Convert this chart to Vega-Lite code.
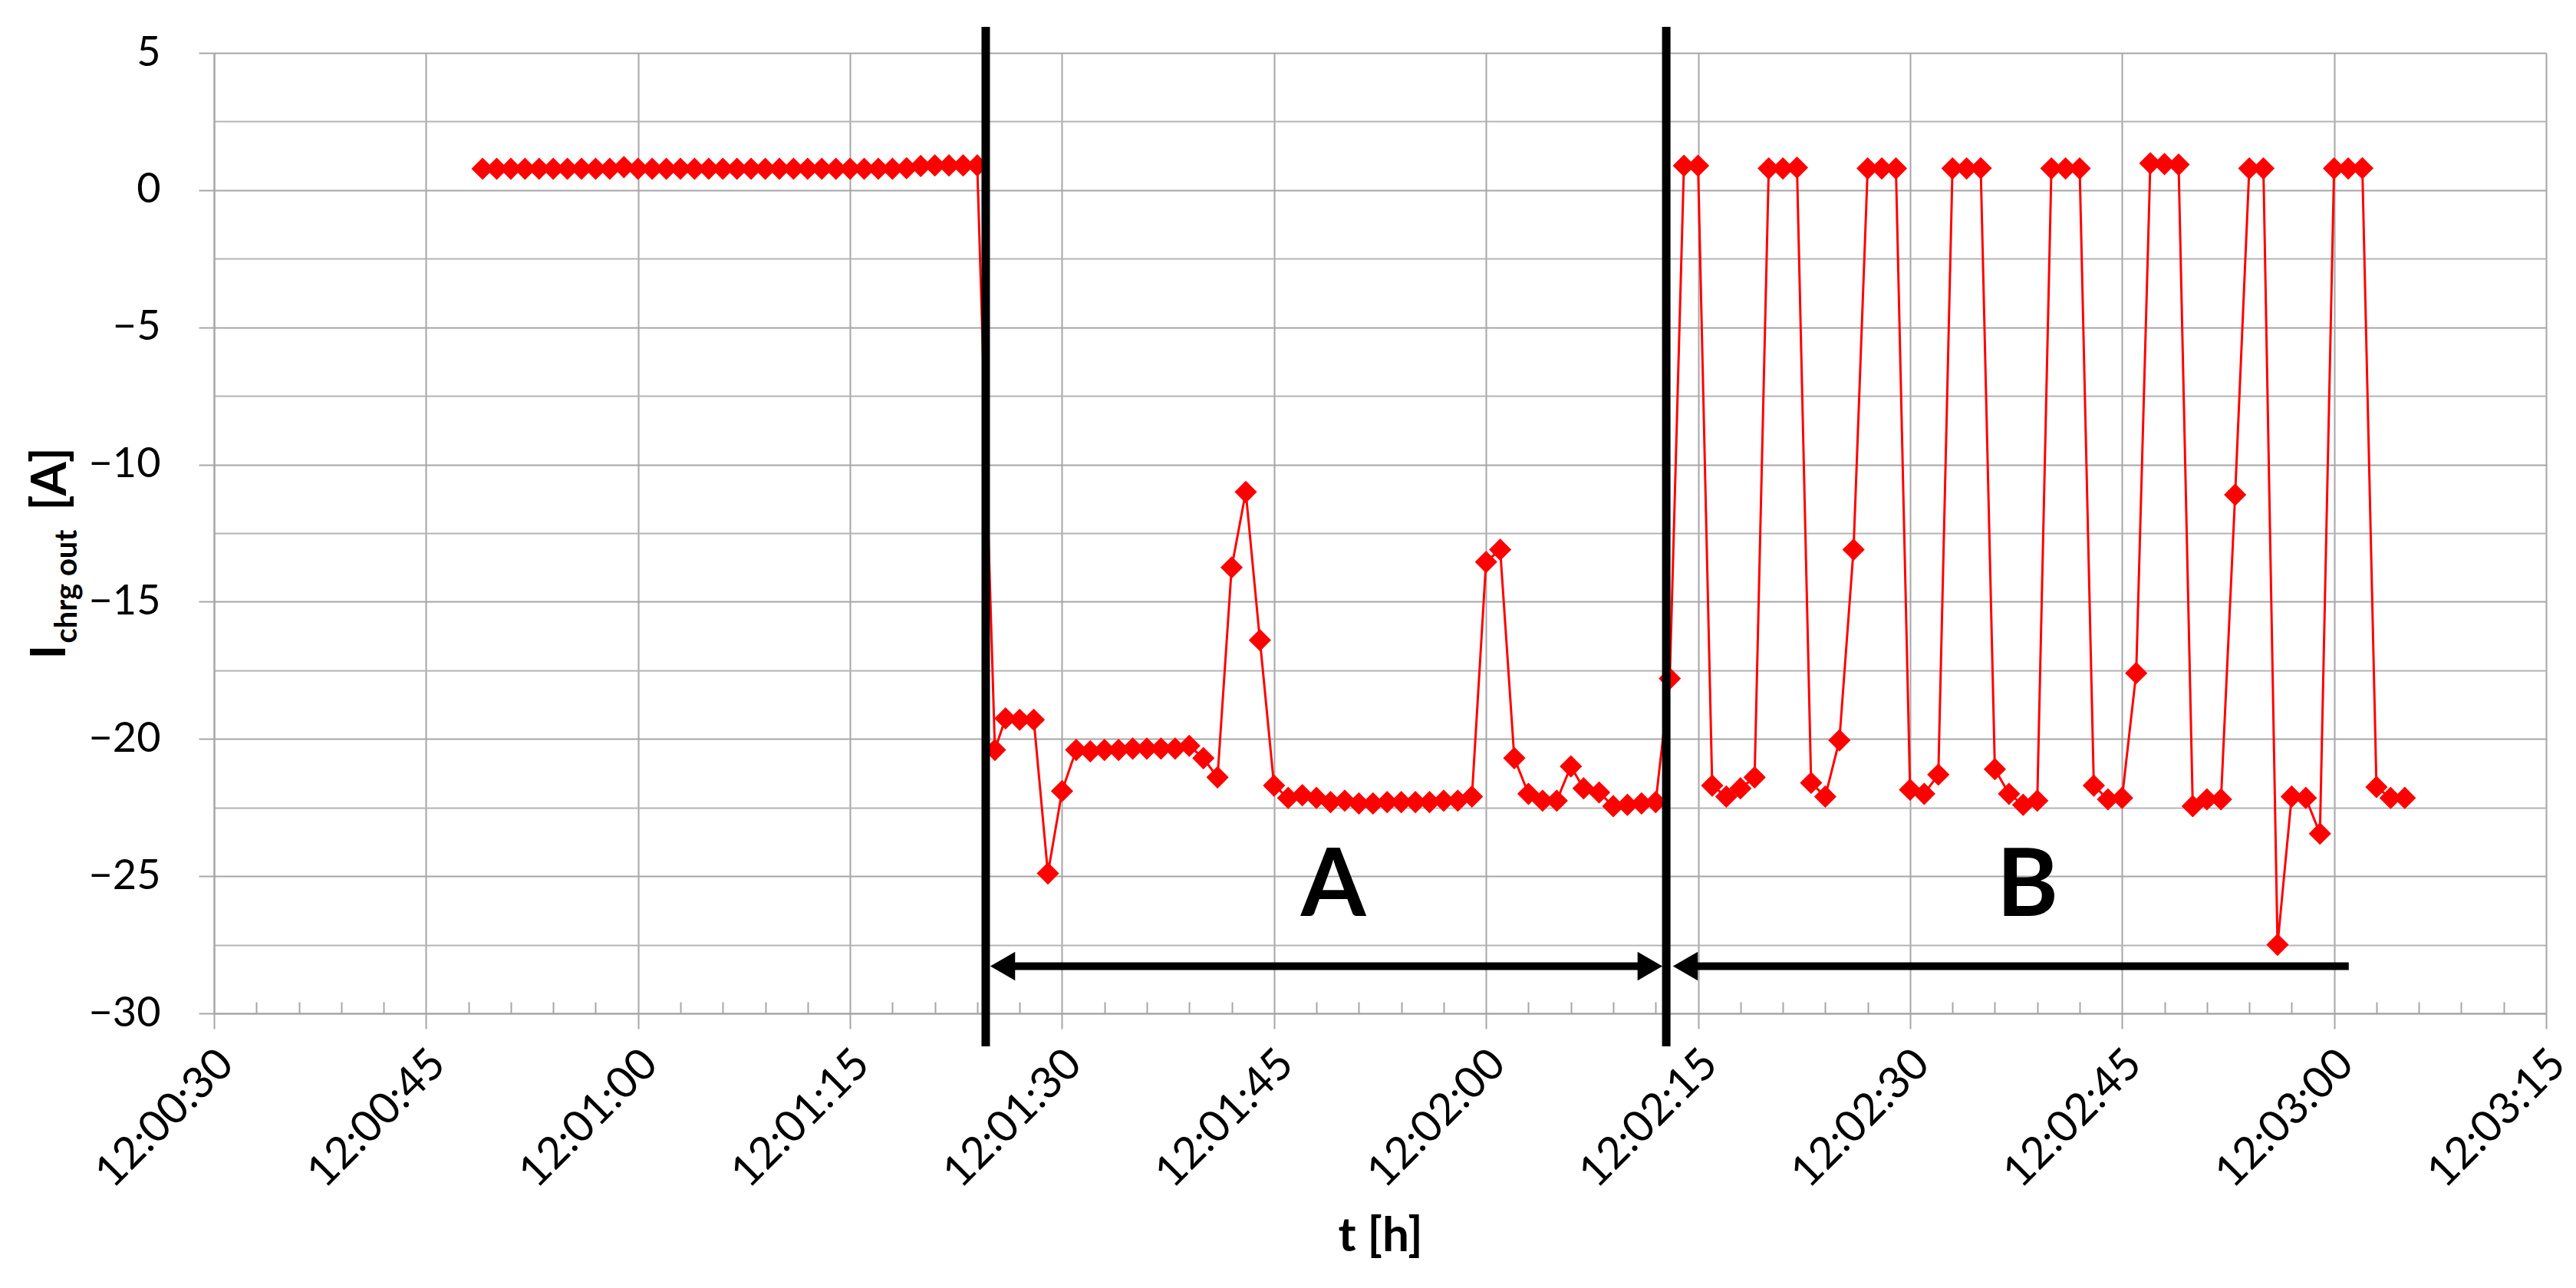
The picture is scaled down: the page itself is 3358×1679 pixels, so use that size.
{
  "$schema": "https://vega.github.io/schema/vega-lite/v6.json",
  "autosize": {"type": "none"},
  "width": 3040,
  "height": 1252,
  "padding": {"left": 279, "top": 69, "right": 39, "bottom": 358},
  "background": "white",
  "config": {
    "font": "Lato",
    "view": {"stroke": null},
    "axis": {"labelFont": "Lato", "titleFont": "Lato", "labelColor": "#000000", "titleColor": "#000000", "labelLimit": 0, "titleLimit": 0}
  },
  "datasets": {
    "current": [
      {"t": 49, "I": 0.78}, {"t": 50, "I": 0.78}, {"t": 51, "I": 0.78}, {"t": 52, "I": 0.78}, {"t": 53, "I": 0.78},
      {"t": 54, "I": 0.78}, {"t": 55, "I": 0.78}, {"t": 56, "I": 0.78}, {"t": 57, "I": 0.78}, {"t": 58, "I": 0.78},
      {"t": 59, "I": 0.84}, {"t": 60, "I": 0.78}, {"t": 61, "I": 0.78}, {"t": 62, "I": 0.78}, {"t": 63, "I": 0.78},
      {"t": 64, "I": 0.78}, {"t": 65, "I": 0.78}, {"t": 66, "I": 0.78}, {"t": 67, "I": 0.78}, {"t": 68, "I": 0.78},
      {"t": 69, "I": 0.78}, {"t": 70, "I": 0.78}, {"t": 71, "I": 0.78}, {"t": 72, "I": 0.78}, {"t": 73, "I": 0.78},
      {"t": 74, "I": 0.78}, {"t": 75, "I": 0.78}, {"t": 76, "I": 0.78}, {"t": 77, "I": 0.78}, {"t": 78, "I": 0.78},
      {"t": 79, "I": 0.8}, {"t": 80, "I": 0.88}, {"t": 81, "I": 0.9}, {"t": 82, "I": 0.9}, {"t": 83, "I": 0.9},
      {"t": 84, "I": 0.9},
      {"t": 85.25, "I": -20.4}, {"t": 86, "I": -19.25}, {"t": 87, "I": -19.3}, {"t": 88, "I": -19.3},
      {"t": 89, "I": -24.9}, {"t": 90, "I": -21.9}, {"t": 91, "I": -20.4}, {"t": 92, "I": -20.45},
      {"t": 93, "I": -20.4}, {"t": 94, "I": -20.4}, {"t": 95, "I": -20.35}, {"t": 96, "I": -20.35},
      {"t": 97, "I": -20.35}, {"t": 98, "I": -20.35}, {"t": 99, "I": -20.25}, {"t": 100, "I": -20.7},
      {"t": 101, "I": -21.4}, {"t": 102, "I": -13.75}, {"t": 103, "I": -11.0}, {"t": 104, "I": -16.4},
      {"t": 105, "I": -21.7}, {"t": 106, "I": -22.15}, {"t": 107, "I": -22.05}, {"t": 108, "I": -22.15},
      {"t": 109, "I": -22.3}, {"t": 110, "I": -22.25}, {"t": 111, "I": -22.35}, {"t": 112, "I": -22.35},
      {"t": 113, "I": -22.3}, {"t": 114, "I": -22.3}, {"t": 115, "I": -22.3}, {"t": 116, "I": -22.3},
      {"t": 117, "I": -22.25}, {"t": 118, "I": -22.25}, {"t": 119, "I": -22.1}, {"t": 120, "I": -13.55},
      {"t": 121, "I": -13.1}, {"t": 122, "I": -20.7}, {"t": 123, "I": -22.0}, {"t": 124, "I": -22.25},
      {"t": 125, "I": -22.25}, {"t": 126, "I": -21.0}, {"t": 126.9, "I": -21.8}, {"t": 128, "I": -21.95},
      {"t": 129, "I": -22.45}, {"t": 130, "I": -22.4}, {"t": 131, "I": -22.35}, {"t": 132, "I": -22.3},
      {"t": 133, "I": -17.8},
      {"t": 134, "I": 0.89}, {"t": 135, "I": 0.89}, {"t": 136, "I": -21.7}, {"t": 137, "I": -22.1},
      {"t": 138, "I": -21.8}, {"t": 139, "I": -21.4}, {"t": 140, "I": 0.79}, {"t": 141, "I": 0.79},
      {"t": 142, "I": 0.82}, {"t": 143, "I": -21.6}, {"t": 144, "I": -22.1}, {"t": 145, "I": -20.05},
      {"t": 146, "I": -13.1}, {"t": 147, "I": 0.79}, {"t": 148, "I": 0.79}, {"t": 149, "I": 0.79},
      {"t": 150, "I": -21.85}, {"t": 151, "I": -22.0}, {"t": 152, "I": -21.3}, {"t": 153, "I": 0.79},
      {"t": 154, "I": 0.79}, {"t": 155, "I": 0.8}, {"t": 156, "I": -21.1}, {"t": 157, "I": -22.0},
      {"t": 158, "I": -22.4}, {"t": 159, "I": -22.25}, {"t": 160, "I": 0.79}, {"t": 161, "I": 0.79},
      {"t": 162, "I": 0.79}, {"t": 163, "I": -21.7}, {"t": 164, "I": -22.2}, {"t": 165, "I": -22.15},
      {"t": 166, "I": -17.6}, {"t": 167, "I": 0.98}, {"t": 168, "I": 0.95}, {"t": 169, "I": 0.93},
      {"t": 170, "I": -22.45}, {"t": 171, "I": -22.2}, {"t": 172, "I": -22.2}, {"t": 173, "I": -11.1},
      {"t": 174, "I": 0.79}, {"t": 175, "I": 0.79}, {"t": 176, "I": -27.5}, {"t": 177, "I": -22.1},
      {"t": 178, "I": -22.15}, {"t": 179, "I": -23.45}, {"t": 180, "I": 0.79}, {"t": 181, "I": 0.79},
      {"t": 182, "I": 0.8}, {"t": 183, "I": -21.75}, {"t": 184, "I": -22.15}, {"t": 185, "I": -22.15}
    ],
    "cursors": [
      {"t": 84.6, "top": 5.95, "bottom": -31.2},
      {"t": 132.75, "top": 5.95, "bottom": -31.2}
    ],
    "spans": [
      {"from": 85.8, "to": 131.6, "level": -28.28},
      {"from": 134.1, "to": 181.04, "level": -28.28}
    ],
    "headsLeft": [
      {"t": 85.8, "level": -28.28},
      {"t": 134.1, "level": -28.28}
    ],
    "headsRight": [
      {"t": 131.6, "level": -28.28}
    ],
    "labels": [
      {"t": 109.2, "level": -26.45, "name": "A"},
      {"t": 158.3, "level": -26.45, "name": "B"}
    ]
  },
  "layer": [
    {
      "data": {"name": "current"},
      "mark": {"type": "point", "opacity": 0},
      "encoding": {
        "x": {
          "field": "t", "type": "quantitative",
          "scale": {"domain": [30, 195], "nice": false, "zero": false},
          "axis": {
            "orient": "bottom",
            "values": [33, 36, 39, 42, 48, 51, 54, 57, 63, 66, 69, 72, 78, 81, 84, 87, 93, 96, 99, 102, 108, 111, 114, 117, 123, 126, 129, 132, 138, 141, 144, 147, 153, 156, 159, 162, 168, 171, 174, 177, 183, 186, 189, 192],
            "grid": false, "labels": false, "domain": false, "title": null,
            "ticks": true, "tickSize": -15, "tickColor": "#a6a6a6", "tickWidth": 2
          }
        },
        "y": {
          "field": "I", "type": "quantitative",
          "scale": {"domain": [-30, 5], "nice": false, "zero": false},
          "axis": {
            "orient": "left",
            "values": [-27.5, -22.5, -17.5, -12.5, -7.5, -2.5, 2.5],
            "grid": true, "gridColor": "#b4b4b4", "gridWidth": 2,
            "ticks": false, "labels": false, "domain": false,
            "title": "chrg out", "titleFontSize": 40, "titleFontWeight": "bold",
            "titleAngle": -90, "titleAlign": "left", "titleBaseline": "alphabetic",
            "titleX": -180, "titleY": 769
          }
        }
      }
    },
    {
      "data": {"name": "current"},
      "mark": {"type": "line", "color": "#ff0000", "strokeWidth": 3},
      "encoding": {
        "x": {
          "field": "t", "type": "quantitative",
          "axis": {
            "orient": "bottom",
            "values": [30, 45, 60, 75, 90, 105, 120, 135, 150, 165, 180, 195],
            "labelExpr": "'12:0' + floor(datum.value / 60) + ':' + (datum.value % 60 < 10 ? '0' : '') + (datum.value % 60)",
            "grid": true, "gridColor": "#a6a6a6", "gridWidth": 2,
            "ticks": true, "tickSize": 20, "tickColor": "#a6a6a6", "tickWidth": 2,
            "domain": true, "domainColor": "#a6a6a6", "domainWidth": 2,
            "labelAngle": -45, "labelFontSize": 57, "labelPadding": 17, "labelOffset": -4, "labelLimit": 0,
            "labelFlush": false, "labelOverlap": false,
            "title": "t [h]", "titleFontSize": 62, "titleFontWeight": "bold",
            "titleBaseline": "alphabetic", "titleY": 309
          }
        },
        "y": {
          "field": "I", "type": "quantitative",
          "axis": {
            "orient": "left",
            "values": [-30, -25, -20, -15, -10, -5, 0, 5],
            "grid": true, "gridColor": "#a6a6a6", "gridWidth": 2,
            "ticks": true, "tickSize": 20, "tickColor": "#a6a6a6", "tickWidth": 2,
            "domain": true, "domainColor": "#a6a6a6", "domainWidth": 2,
            "labelFontSize": 54, "labelPadding": 50, "labelFlush": false, "labelOverlap": false,
            "title": "I", "titleFontSize": 64, "titleFontWeight": "bold",
            "titleAngle": -90, "titleAlign": "left", "titleBaseline": "alphabetic",
            "titleX": -195, "titleY": 790
          }
        }
      }
    },
    {
      "data": {"name": "current"},
      "mark": {"type": "point", "shape": "diamond", "filled": true, "color": "#ff0000", "opacity": 1, "size": 850},
      "encoding": {
        "x": {"field": "t", "type": "quantitative", "axis": null},
        "y": {"field": "I", "type": "quantitative", "axis": null}
      }
    },
    {
      "data": {"name": "cursors"},
      "mark": {"type": "rule", "color": "#000000", "strokeWidth": 11},
      "encoding": {
        "x": {"field": "t", "type": "quantitative", "axis": null},
        "y": {
          "field": "top", "type": "quantitative",
          "axis": {
            "orient": "left", "grid": false, "ticks": false, "labels": false, "domain": false,
            "title": "[A]", "titleFontSize": 64, "titleFontWeight": "bold",
            "titleAngle": -90, "titleAlign": "left", "titleBaseline": "alphabetic",
            "titleX": -194, "titleY": 596
          }
        },
        "y2": {"field": "bottom"}
      }
    },
    {
      "data": {"name": "spans"},
      "mark": {"type": "rule", "color": "#000000", "strokeWidth": 10},
      "encoding": {
        "x": {"field": "from", "type": "quantitative", "axis": null},
        "x2": {"field": "to"},
        "y": {"field": "level", "type": "quantitative", "axis": null}
      }
    },
    {
      "data": {"name": "headsLeft"},
      "mark": {"type": "point", "shape": "triangle-left", "filled": true, "color": "#000000", "opacity": 1, "size": 1400},
      "encoding": {
        "x": {"field": "t", "type": "quantitative", "axis": null},
        "y": {"field": "level", "type": "quantitative", "axis": null}
      }
    },
    {
      "data": {"name": "headsRight"},
      "mark": {"type": "point", "shape": "triangle-right", "filled": true, "color": "#000000", "opacity": 1, "size": 1400},
      "encoding": {
        "x": {"field": "t", "type": "quantitative", "axis": null},
        "y": {"field": "level", "type": "quantitative", "axis": null}
      }
    },
    {
      "data": {"name": "labels"},
      "mark": {"type": "text", "font": "Lato", "fontWeight": "bold", "fontSize": 122, "color": "#000000", "align": "center", "baseline": "alphabetic"},
      "encoding": {
        "x": {"field": "t", "type": "quantitative", "axis": null},
        "y": {"field": "level", "type": "quantitative", "axis": null},
        "text": {"field": "name"}
      }
    }
  ],
  "resolve": {"axis": {"x": "independent", "y": "independent"}}
}
